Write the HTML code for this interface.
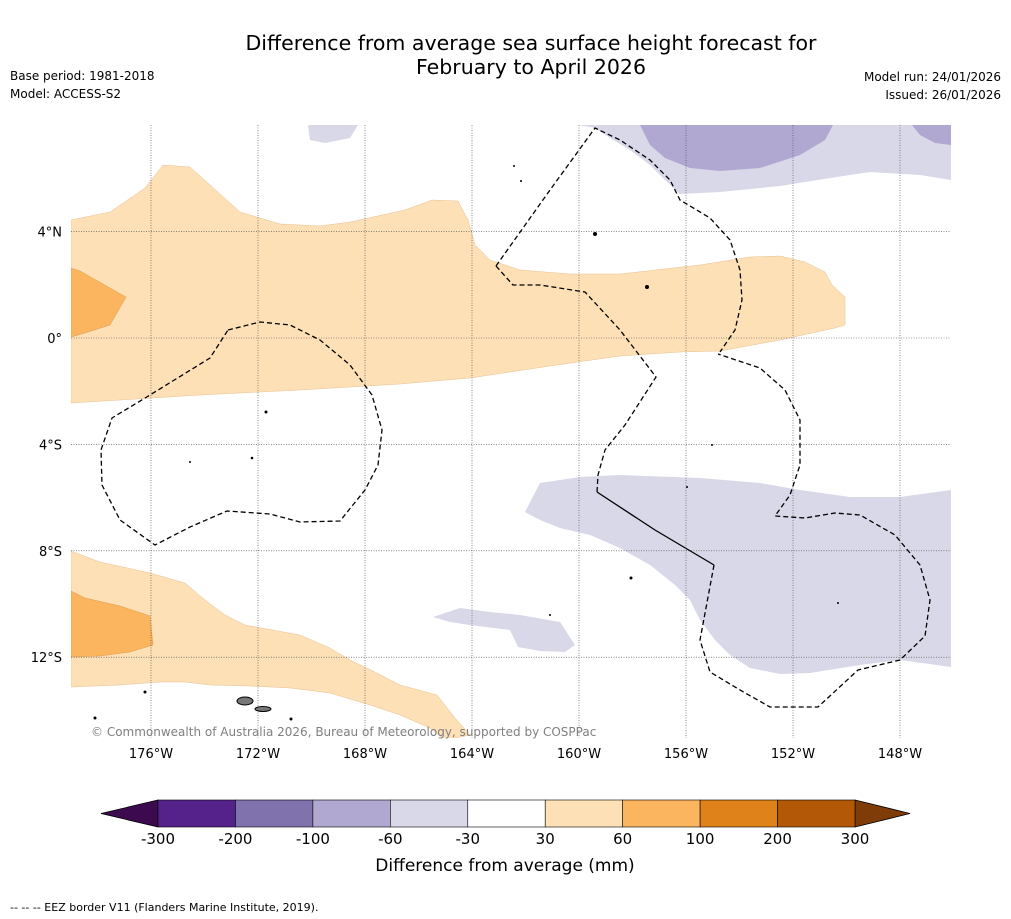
<!DOCTYPE html>
<html><head><meta charset="utf-8"><style>
body{margin:0;background:#fff;font-family:"DejaVu Sans","Liberation Sans",sans-serif;}
svg{display:block}
</style></head><body>
<svg id="c" width="1011" height="919" viewBox="0 0 1011 919" xmlns="http://www.w3.org/2000/svg">
<text x="531" y="50" text-anchor="middle" font-size="20.5">Difference from average sea surface height forecast for</text>
<text x="531" y="74" text-anchor="middle" font-size="20.5">February to April 2026</text>
<text x="10" y="80" font-size="12">Base period: 1981-2018</text>
<text x="10" y="98" font-size="12">Model: ACCESS-S2</text>
<text x="1001" y="81" font-size="12" text-anchor="end">Model run: 24/01/2026</text>
<text x="1001" y="99" font-size="12" text-anchor="end">Issued: 26/01/2026</text>
<defs><clipPath id="mc"><rect x="71" y="125" width="880" height="613"/></clipPath></defs>
<g clip-path="url(#mc)">
<polygon fill="#fde0b6" stroke="#e8c090" stroke-width="0.5" points="71,220 110,212 145,188 163,165 190,167 240,212 280,224 320,226 350,222 405,210 432,200 458,201 468,220 475,245 490,260 520,270 570,274 620,274 700,265 750,257 780,256 805,262 825,272 832,285 845,297 845,325 835,328 780,340 720,351 680,352 620,356 550,366 470,378 400,384 300,390 200,395 120,400 71,403"/>
<polygon fill="#fbb55f" stroke="#e09a4a" stroke-width="0.5" points="71,268 80,271 126,297 110,325 85,333 71,337"/>
<polygon fill="#fde0b6" stroke="#e8c090" stroke-width="0.5" points="71,551 100,562 150,573 185,583 205,600 225,615 245,625 300,635 330,648 350,660 375,672 400,685 437,695 455,718 470,735 445,740 430,728 400,715 370,705 330,693 290,688 250,686 210,685 185,682 160,682 120,685 71,687"/>
<polygon fill="#fbb55f" stroke="#e09a4a" stroke-width="0.5" points="71,591 85,598 120,606 150,616 153,645 130,652 100,656 71,657"/>
<polygon fill="#d8d8e9" points="578,125 951,125 951,180 920,175 870,172 830,178 780,186 720,192 680,194 665,180 650,165 630,150 610,138 595,128"/>
<polygon fill="#b0a8d0" points="640,125 833,125 825,140 800,155 760,168 720,171 690,168 665,158 650,145"/>
<polygon fill="#b0a8d0" points="912,125 951,125 951,145 935,143 920,135"/>
<polygon fill="#d8d8e9" points="308,125 358,125 350,138 325,143 310,140"/>
<polygon fill="#d8d8e9" points="540,483 580,477 620,475 700,478 760,483 800,490 850,497 900,497 951,490 951,667 900,660 860,665 810,673 780,674 750,668 730,655 715,640 700,620 690,600 675,585 650,565 620,548 590,535 560,528 540,520 525,512"/>
<polygon fill="#d8d8e9" points="433,617 460,608 490,612 520,615 560,622 575,645 565,652 540,651 518,647 510,630 470,625 450,622"/>
<g id="grid"></g>
<g fill="none" stroke="#000" stroke-width="1.3">
<polyline stroke-dasharray="5,3" points="228,330 260,322 290,325 320,340 350,365 372,395 382,430 378,465 365,490 340,521 300,522 270,514 227,511 190,527 155,545 120,520 102,485 101,450 112,418 150,395 210,358 228,330"/>
<polyline stroke-dasharray="5,3" points="496,266 550,190 595,128 620,140 650,160 670,180 680,200 710,218 730,240 740,270 742,300 735,330 720,352"/>
<polyline stroke-dasharray="5,3" points="496,266 513,285 540,285 585,292 620,330 656,377 625,425 605,450 598,475 597,492"/>
<polyline points="597,492 655,530 714,565"/>
<polyline stroke-dasharray="5,3" points="714,565 700,640 710,672 740,690 770,707 818,707 858,670 900,660 925,636 930,600 920,565 895,535 860,515 835,513 805,518 775,516 790,495 800,465 800,420 785,390 760,368 718,354"/>
</g>
<g fill="#000">
<ellipse cx="245" cy="701" rx="8" ry="4" fill="#777" stroke="#000"/>
<ellipse cx="263" cy="709" rx="8" ry="2.5" fill="#777" stroke="#000"/>
<circle cx="595" cy="234" r="2"/><circle cx="647" cy="287" r="2"/><circle cx="266" cy="412" r="1.5"/>
<circle cx="252" cy="458" r="1.3"/><circle cx="190" cy="462" r="1"/><circle cx="145" cy="692" r="1.5"/>
<circle cx="95" cy="718" r="1.5"/><circle cx="291" cy="719" r="1.5"/><circle cx="631" cy="578" r="1.5"/>
<circle cx="550" cy="615" r="1"/><circle cx="514" cy="166" r="1"/><circle cx="521" cy="181" r="1"/>
<circle cx="712" cy="445" r="1"/><circle cx="687" cy="487" r="1"/><circle cx="838" cy="603" r="1"/>
</g>
</g>
<text x="91" y="736" font-size="12" fill="#808080">© Commonwealth of Australia 2026, Bureau of Meteorology, supported by COSPPac</text>
<g id="axes" font-size="13"></g>
<g id="cbar"></g>
<text x="505" y="871" text-anchor="middle" font-size="17">Difference from average (mm)</text>
<text x="10" y="911" font-size="11">--  --  -- EEZ border V11 (Flanders Marine Institute, 2019).</text>
</svg>
<script>
const lonTicks=[176,172,168,164,160,156,152,148];
const latTicks=[4,0,-4,-8,-12];
const cbarLabels=["-300","-200","-100","-60","-30","30","60","100","200","300"];
const cbarColors=["#54228a","#8073ad","#b0a8d0","#d8d8e9","#ffffff","#fde0b6","#fbb55f","#e0821a","#b35806"];
const NS="http://www.w3.org/2000/svg";
function mk(t,a,p){const e=document.createElementNS(NS,t);for(const k in a)e.setAttribute(k,a[k]);p.appendChild(e);return e;}
const xLon=w=>151+(176-w)*26.75;
const yLat=l=>338-l*26.6;
const grid=document.getElementById('grid'),axes=document.getElementById('axes'),cb=document.getElementById('cbar');
lonTicks.forEach(w=>{const x=xLon(w);
const l=mk('line',{x1:x,x2:x,y1:125,y2:738,stroke:'#444','stroke-width':0.6,'stroke-dasharray':'1,1.5'},grid);


const t=mk('text',{x:x,y:758,'text-anchor':'middle'},axes);t.textContent=w+'°W';

});
latTicks.forEach(v=>{const y=yLat(v);
const l=mk('line',{x1:71,x2:951,y1:y,y2:y,stroke:'#444','stroke-width':0.6,'stroke-dasharray':'1,1.5'},grid);


const t=mk('text',{x:62,y:y+5,'text-anchor':'end'},axes);t.textContent=v===0?'0°':Math.abs(v)+'°'+(v>0?'N':'S');

});
const x0=158,x1=855,bw=(x1-x0)/cbarColors.length,y0=800,h=27;
const lt=mk('polygon',{points:`101,${y0+h/2} ${x0},${y0} ${x0},${y0+h}`,fill:'#3b0a4f',stroke:'#000','stroke-width':0.8},cb);


const rt=mk('polygon',{points:`910,${y0+h/2} ${x1},${y0} ${x1},${y0+h}`,fill:'#7f3b08',stroke:'#000','stroke-width':0.8},cb);


cbarColors.forEach((c,i)=>{const r=mk('rect',{x:x0+i*bw,y:y0,width:bw,height:h,fill:c,stroke:'#000','stroke-width':0.6},cb);

});
cbarLabels.forEach((s,i)=>{const t=mk('text',{x:x0+i*bw,y:844,'text-anchor':'middle','font-size':15},cb);t.textContent=s;

});
</script>
</body></html>
